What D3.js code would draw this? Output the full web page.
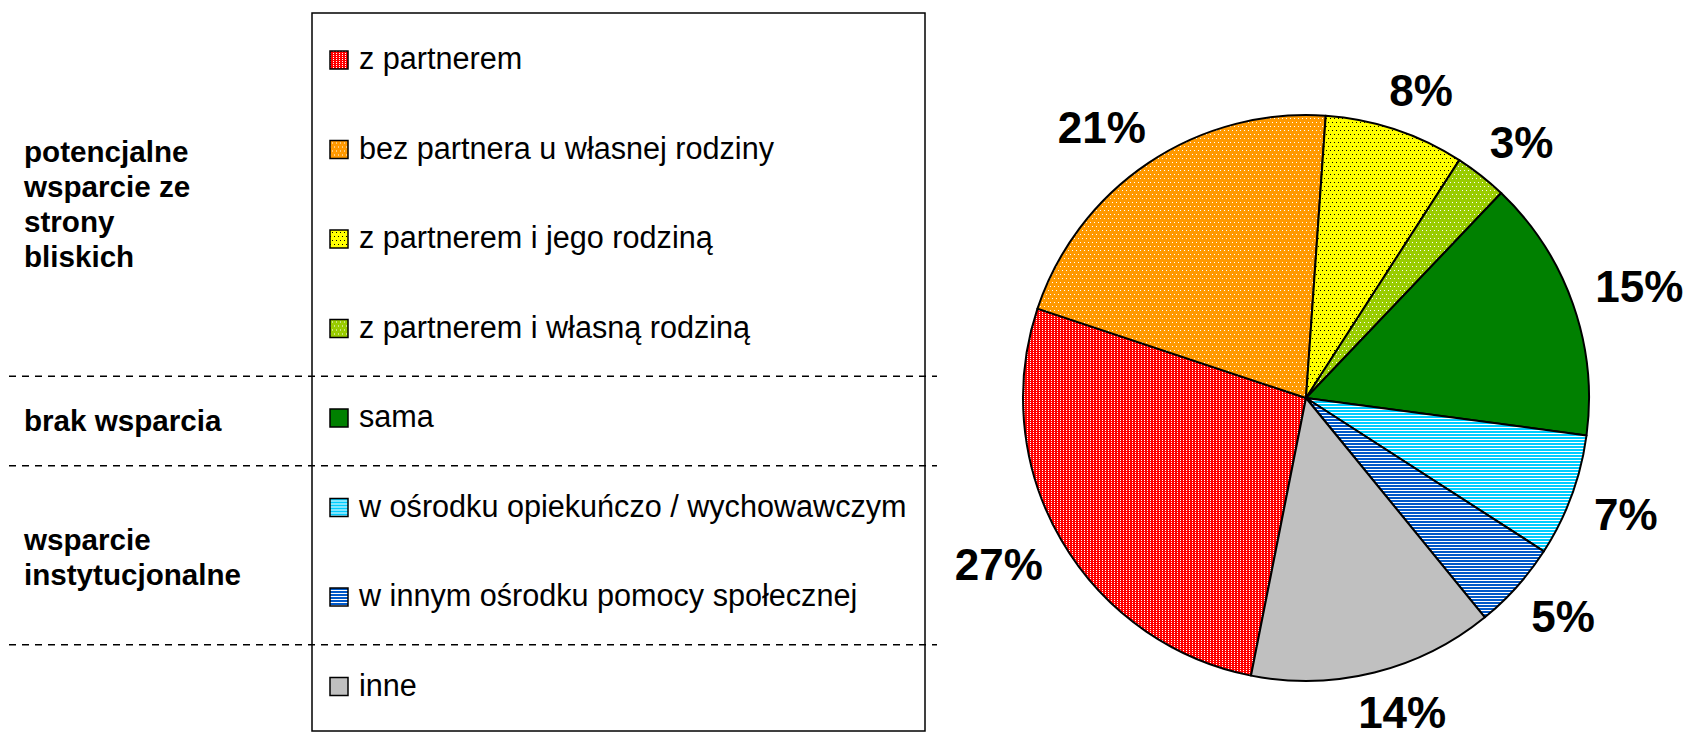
<!DOCTYPE html>
<html>
<head>
<meta charset="utf-8">
<script src="https://cdn.jsdelivr.net/npm/d3@7"></script>
<style>
  body { margin: 0; background: #fff; }
  svg { display: block; font-family: "Liberation Sans", Arial, sans-serif; }
</style>
</head>
<body>
<div id="chart"></div>
<script>
// data
var categories = ["z partnerem", "bez partnera u własnej rodziny", "z partnerem i jego rodziną",
                  "z partnerem i własną rodziną", "sama", "w ośrodku opiekuńczo / wychowawczym",
                  "w innym ośrodku pomocy społecznej", "inne"];
var values = [27, 21, 8, 3, 15, 7, 5, 14];
var groupLabels = [["potencjalne", "wsparcie ze", "strony", "bliskich"], ["brak wsparcia"],
                   ["wsparcie", "instytucjonalne"], []];
var groupSizes = [4, 1, 2, 1];

var W = 1688, H = 734;
var svg = d3.select("#chart").append("svg").attr("width", W).attr("height", H);

// fills: colour + pattern kind
var fills = [
  { c: "#ff0000", kind: "dense", dot: "#fff" },
  { c: "#ff9900", kind: "dots", dot: "#fff" },
  { c: "#ffff00", kind: "dots", dot: "#000" },
  { c: "#99cc00", kind: "dots", dot: "#fff" },
  { c: "#008000", kind: "solid" },
  { c: "#00ccff", kind: "lines", lw: 2 },
  { c: "#0058c8", kind: "lines", lw: 2 },
  { c: "#c0c0c0", kind: "solid" }
];

var defs = svg.append("defs");
fills.forEach(function(f, i) {
  if (f.kind == "solid") { f.url = f.c; return; }
  var id = "pat" + i;
  var p = defs.append("pattern").attr("id", id).attr("patternUnits", "userSpaceOnUse");
  if (f.kind == "dense") {
    p.attr("width", 3).attr("height", 2);
    p.append("rect").attr("width", 3).attr("height", 2).attr("fill", f.c);
    p.append("rect").attr("x", 0).attr("y", 0).attr("width", 1).attr("height", 1).attr("fill", f.dot);
  } else if (f.kind == "dots") {
    p.attr("width", 4).attr("height", 8);
    p.append("rect").attr("width", 4).attr("height", 8).attr("fill", f.c);
    [[0, 0], [2, 4]].forEach(function(d) {
      p.append("rect").attr("x", d[0]).attr("y", d[1]).attr("width", 1).attr("height", 1).attr("fill", f.dot);
    });
  } else {
    p.attr("width", 4).attr("height", 3);
    p.append("rect").attr("width", 4).attr("height", 3).attr("fill", "#fff");
    p.append("rect").attr("width", 4).attr("height", f.lw).attr("fill", f.c);
  }
  f.url = "url(#" + id + ")";
});

// ---- legend box
var box = { x: 312, y: 13, w: 613, h: 718 };
svg.append("rect")
  .attr("x", box.x).attr("y", box.y).attr("width", box.w).attr("height", box.h)
  .attr("fill", "none").attr("stroke", "#000").attr("stroke-width", 1.5);

var yRow = d3.scalePoint().domain(categories).range([69, 695.5]);

var rows = svg.append("g").selectAll("g").data(categories).enter().append("g")
  .attr("transform", function(d) { return "translate(0," + yRow(d) + ")"; });
rows.append("rect")
  .attr("x", 330).attr("y", -18).attr("width", 18).attr("height", 18)
  .attr("fill", function(d, i) { return fills[i].url; })
  .attr("stroke", "#000").attr("stroke-width", 1.5);
rows.append("text")
  .attr("x", 359).attr("y", 0)
  .attr("font-size", 30.6).attr("fill", "#000")
  .text(function(d) { return d; });

// group separators and group labels
var start = 0;
groupSizes.forEach(function(n, gi) {
  var first = categories[start], last = categories[start + n - 1];
  var mid = (yRow(first) + yRow(last)) / 2;
  var lines = groupLabels[gi];
  var lh = 35;
  var y0 = mid + 4 + 2.5 * (lines.length - 1) - (lines.length - 1) * lh / 2;
  svg.append("text")
    .attr("x", 24).attr("font-size", 29.6).attr("font-weight", "bold")
    .selectAll("tspan").data(lines).enter().append("tspan")
    .attr("x", 24).attr("y", function(d, k) { return y0 + k * lh; })
    .text(function(d) { return d; });
  if (gi < groupSizes.length - 1) {
    var ys = (yRow(last) + yRow(categories[start + n])) / 2 - 6;
    svg.append("line")
      .attr("x1", 9).attr("x2", 937).attr("y1", ys).attr("y2", ys)
      .attr("stroke", "#000").attr("stroke-width", 1.5).attr("stroke-dasharray", "7,6");
  }
  start += n;
});

// ---- pie
var cx = 1306, cy = 398, R = 283;
var total = d3.sum(values);
var a0 = (4 - 360 * (values[0] + values[1]) / total) * Math.PI / 180;
var pie = d3.pie().sort(null).startAngle(a0).endAngle(a0 + 2 * Math.PI);
var arcs = pie(values);
var arc = d3.arc().innerRadius(0).outerRadius(R);

var pg = svg.append("g").attr("transform", "translate(" + cx + "," + cy + ")");
pg.selectAll("path").data(arcs).enter().append("path")
  .attr("d", arc)
  .attr("fill", function(d, i) { return fills[i].url; })
  .attr("stroke", "#000").attr("stroke-width", 2).attr("stroke-linejoin", "round");

// labels sit just outside the rim, their box pushed outward along the mid angle
var labels = pg.selectAll("text").data(arcs).enter().append("text")
  .attr("text-anchor", "middle").attr("dy", "0.36em")
  .attr("font-size", 44).attr("font-weight", "bold").attr("fill", "#000")
  .text(function(d) { return Math.round(100 * d.value / total) + "%"; });
labels.attr("transform", function(d) {
  var a = (d.startAngle + d.endAngle) / 2;
  var s = Math.sin(a), c = Math.cos(a);
  var w = this.getComputedTextLength(), h = 32, rr = R + 25;
  var x = rr * s + Math.sign(s) * Math.sqrt(Math.abs(s)) * w / 2;
  var y = -rr * c - Math.sign(c) * Math.sqrt(Math.abs(c)) * h / 2;
  return "translate(" + x + "," + y + ")";
});
</script>
</body>
</html>
